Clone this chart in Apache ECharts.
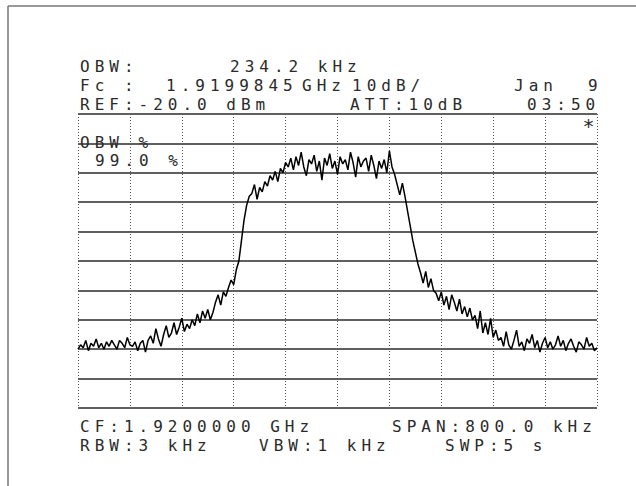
<!DOCTYPE html>
<html><head><meta charset="utf-8">
<script src="https://cdn.jsdelivr.net/npm/echarts/dist/echarts.min.js"></script>
<style>
html,body{margin:0;padding:0;background:#fff;}
#c{width:636px;height:486px;}
#c text{letter-spacing:5px;}
</style></head><body><div id="c"></div>
<script>
// Sweep: centre 1.92 GHz, span 800 kHz, offsets in kHz
const spanStartKHz = -400;
const spanEndKHz = 400;
const sweepStepKHz = 4;
const refLevelDbm = -20;
const bottomLevelDbm = -120;
const dbPerDiv = 10;
const freqDivKHz = 80;

// trace (dBm), one per 4 kHz from -400 kHz to +400 kHz
const traceDbm = [
  -100, -98.5, -99.5, -97, -100.5, -98, -99, -96.5, -99.5, -98, -100, -97.5, -99, -97, -98.5, -100, -97, -98, -99.5, -96, -98.5, -99, -97.5, -100.5, -98, -97,
  -101, -97, -95.5, -98, -93, -96.5, -99, -95, -92, -96,
  -94.5, -91, -95, -92.5, -89.5, -94, -91.5, -93, -90, -92,
  -88, -91, -87, -89.5, -86.5, -90, -87.5,
  -84, -81.5, -85, -80.5, -82,
  -79, -76.5, -78, -73, -70,
  -63, -56, -51, -48,
  -47, -44, -49, -45, -46.5, -43,
  -44.5, -41, -42.5, -39.5, -43, -38.5, -40, -36.5, -38,
  -35, -39, -34.5, -37.5, -33, -38, -41, -35.5, -37, -34, -39.5, -36, -42.5, -35, -37.5, -33.5, -38.5, -36, -40.5, -34.5,
  -37, -35.5, -39, -33, -36.5, -41.5, -34.5, -38, -36, -35, -39.5, -34, -37.5, -42, -36, -38.5, -35.5, -40,
  -32.5, -38, -40.5,
  -44, -47.5, -43.5, -48,
  -53, -58, -63, -67, -71,
  -74, -77.5, -73.5, -79, -76, -80,
  -81, -83.5, -80.5, -85, -82, -86.5, -81.5, -84, -87, -83, -88, -85.5, -89, -86, -90,
  -88.5, -93, -87, -94.5, -91, -95, -89.5, -96, -93.5, -97,
  -96, -99, -94, -98.5, -100, -97, -93.5, -99, -97.5, -100.5, -96.5, -98, -95, -99.5, -97, -101, -98, -96, -99.5, -97.5,
  -100, -98.5, -95.5, -99, -97, -100.5, -98, -96.5, -99, -101, -97.5, -98.5, -100, -96, -99, -98, -100.5, -99.5
];

// screen annotations: [text, x, y]
const headerLines = [
  ['OBW:', 80, 66], ['234.2 kHz', 230, 66],
  ['Fc :', 80, 85], ['1.9199845', 166, 85], ['GHz', 302, 85], ['10dB/', 352, 85], ['Jan', 514, 85], ['9', 588, 85],
  ['REF:-20.0 dBm', 80, 104], ['ATT:10dB', 350, 104], ['03:50', 527, 104]
];
const insideLines = [
  ['OBW %', 80, 142], ['99.0 %', 95, 160]
];
const footerLines = [
  ['CF:1.9200000 GHz', 80, 426], ['SPAN:800.0 kHz', 392, 426],
  ['RBW:3 kHz', 80, 445], ['VBW:1 kHz', 259, 445], ['SWP:5 s', 445, 445]
];

const tracePoints = traceDbm.map((v, i) => [spanStartKHz + i * sweepStepKHz, v]);

const FONT = '16px "DejaVu Sans Mono", monospace';
function txt(a) {
  return { type: 'text', x: a[1], y: a[2], silent: true,
    style: { text: a[0], font: FONT, fill: '#2a2a2a', align: 'left', verticalAlign: 'middle' } };
}

const chart = echarts.init(document.getElementById('c'), null, { renderer: 'svg', width: 636, height: 486 });
chart.setOption({
  animation: false,
  backgroundColor: '#ffffff',
  grid: { left: 78, right: 39, top: 114, bottom: 78, containLabel: false },
  xAxis: {
    type: 'value', min: spanStartKHz, max: spanEndKHz, interval: freqDivKHz,
    axisLine: { show: false }, axisTick: { show: false }, axisLabel: { show: false },
    splitLine: { show: true, lineStyle: { color: '#555', type: [1, 2], width: 1 } }
  },
  yAxis: {
    type: 'value', min: bottomLevelDbm, max: refLevelDbm, interval: dbPerDiv,
    axisLine: { show: false }, axisTick: { show: false }, axisLabel: { show: false },
    splitLine: { show: true, lineStyle: { color: '#2b2b2b', width: 1.5 } }
  },
  series: [{
    type: 'line', data: tracePoints, showSymbol: false, symbol: 'none',
    lineStyle: { color: '#000', width: 1.5 }, z: 5
  }],
  graphic: [
    { type: 'line', silent: true, shape: { x1: 8, y1: 6, x2: 636, y2: 6 }, style: { stroke: '#777', lineWidth: 1.5 } },
    { type: 'line', silent: true, shape: { x1: 8, y1: 6, x2: 8, y2: 486 }, style: { stroke: '#777', lineWidth: 1.5 } },
    { type: 'text', x: 591, y: 126, silent: true,
      style: { text: '*', font: '20px "DejaVu Sans Mono", monospace', fill: '#2a2a2a', align: 'center', verticalAlign: 'middle' } }
  ].concat(headerLines.map(txt), insideLines.map(txt), footerLines.map(txt))
});
</script></body></html>
